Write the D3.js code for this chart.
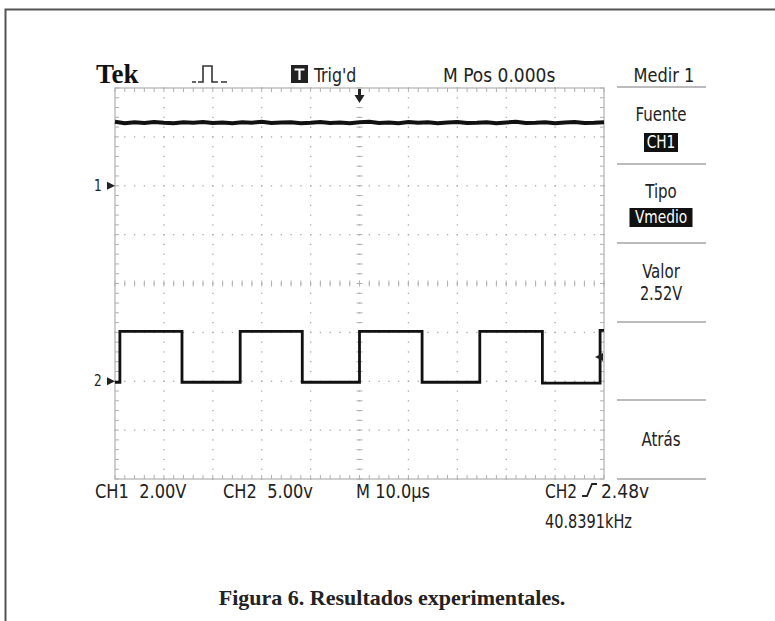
<!DOCTYPE html>
<html><head><meta charset="utf-8">
<script src="https://cdn.jsdelivr.net/npm/d3@7/dist/d3.min.js"></script>
<style>
html,body{margin:0;padding:0;background:#fff;}
svg{display:block;}
</style></head>
<body>
<svg id="c" width="775" height="621"></svg>
<script>
// ---- data ----
const timeDomain = [-50, 50];          // µs, 10 µs/div
const divDomain = [-4, 4];             // vertical divisions
const ch1VoltsPerDiv = 2.0;
const ch2VoltsPerDiv = 5.0;
const ch1GroundDiv = 2;
const ch2GroundDiv = -2;
// CH1: nearly flat DC level
const ch1Times  = [-50,-48,-46,-44,-42,-40,-38,-36,-34,-32,-30,-28,-26,-24,-22,-20,-18,-16,-14,-12,-10,-8,-6,-4,-2,0,2,4,6,8,10,12,14,16,18,20,22,24,26,28,30,32,34,36,38,40,42,44,46,48,50];
const ch1Volts  = [2.62,2.56,2.60,2.57,2.61,2.58,2.56,2.60,2.58,2.61,2.57,2.59,2.56,2.60,2.58,2.62,2.57,2.59,2.60,2.56,2.58,2.61,2.57,2.59,2.56,2.60,2.62,2.57,2.59,2.56,2.61,2.58,2.60,2.56,2.59,2.61,2.57,2.58,2.60,2.56,2.59,2.62,2.57,2.58,2.60,2.56,2.59,2.61,2.57,2.58,2.60];
// CH2: square wave, ~40.84 kHz
const ch2Times  = [-50,-49.0,-49.0,-36.3,-36.3,-24.4,-24.4,-11.7,-11.7,0,0,12.8,12.8,24.6,24.6,37.4,37.4,49.2,49.2,50];
const ch2Volts  = [-0.1,-0.1,5.1,5.1,-0.1,-0.1,5.1,5.1,-0.1,-0.1,5.1,5.1,-0.1,-0.1,5.1,5.1,-0.2,-0.2,5.2,5.2];
const headerTexts = ["Tek","Trig'd","M Pos 0.000s","Medir 1"];
const bottomTexts = ["CH1  2.00V","CH2  5.00v","M 10.0\u00B5s","CH2","2.48v","40.8391kHz"];
const menuTexts = ["Fuente","CH1","Tipo","Vmedio","Valor","2.52V","Atr\u00E1s"];
const caption = "Figura 6. Resultados experimentales.";
const trigLevelV = 2.48;

// ---- layout ----
const svg = d3.select("#c");
const L = 115, R = 604, T = 88, B = 479;
const x = d3.scaleLinear().domain(timeDomain).range([L, R]);
const yd = d3.scaleLinear().domain(divDomain).range([B, T]);
const y1 = v => yd(ch1GroundDiv + v / ch1VoltsPerDiv);
const y2 = v => yd(ch2GroundDiv + v / ch2VoltsPerDiv);

const font = "'DejaVu Sans Condensed','DejaVu Sans',sans-serif";
function txt(g, tx, ty, s, size, sx, anchor, fill) {
  return g.append("text").attr("transform", `translate(${tx},${ty}) scale(${sx},1)`)
    .attr("text-anchor", anchor || "start").attr("font-family", font).attr("font-size", size)
    .attr("fill", fill || "#222").attr("xml:space", "preserve").text(s);
}

// outer frame
svg.append("rect").attr("x", 0).attr("y", 0).attr("width", 775).attr("height", 621).attr("fill", "#fff");
svg.append("path").attr("d", "M5.5,621 L5.5,9.5 L775,9.5").attr("fill", "none").attr("stroke", "#555").attr("stroke-width", 2);

const scope = svg.append("g");
// grid border
scope.append("rect").attr("x", L).attr("y", T).attr("width", R - L).attr("height", B - T)
  .attr("fill", "none").attr("stroke", "#c0c0c0").attr("stroke-width", 1.5);

// dotted grid
const gridG = scope.append("g").attr("fill", "#a8a8a8");
for (let t = -40; t <= 40; t += 10) {
  for (let d = -4; d <= 4.001; d += 0.2) {
    gridG.append("rect").attr("x", x(t) - 0.6).attr("y", yd(d) - 0.6).attr("width", 1.3).attr("height", 1.3);
  }
}
for (let dv = -3; dv <= 3; dv += 1) {
  for (let t = -50; t <= 50.001; t += 2) {
    gridG.append("rect").attr("x", x(t) - 0.6).attr("y", yd(dv) - 0.6).attr("width", 1.3).attr("height", 1.3);
  }
}
// ticks on edges and center axes
const tickG = scope.append("g").attr("stroke", "#b0b0b0").attr("stroke-width", 1);
for (let t = -50; t <= 50.001; t += 2) {
  tickG.append("line").attr("x1", x(t)).attr("x2", x(t)).attr("y1", T).attr("y2", T + 4);
  tickG.append("line").attr("x1", x(t)).attr("x2", x(t)).attr("y1", B).attr("y2", B - 4);
  tickG.append("line").attr("x1", x(t)).attr("x2", x(t)).attr("y1", yd(0) - 3).attr("y2", yd(0) + 3);
}
for (let d = -4; d <= 4.001; d += 0.2) {
  tickG.append("line").attr("x1", L).attr("x2", L + 4).attr("y1", yd(d)).attr("y2", yd(d));
  tickG.append("line").attr("x1", R).attr("x2", R - 4).attr("y1", yd(d)).attr("y2", yd(d));
  tickG.append("line").attr("x1", x(0) - 3).attr("x2", x(0) + 3).attr("y1", yd(d)).attr("y2", yd(d));
}

// traces
const line1 = d3.line().x((d, i) => x(ch1Times[i])).y((d, i) => y1(ch1Volts[i]));
scope.append("path").datum(ch1Volts).attr("d", line1).attr("fill", "none")
  .attr("stroke", "#111").attr("stroke-width", 4);
const line2 = d3.line().x((d, i) => x(ch2Times[i])).y((d, i) => y2(ch2Volts[i]));
scope.append("path").datum(ch2Volts).attr("d", line2).attr("fill", "none")
  .attr("stroke", "#111").attr("stroke-width", 2.8);

// channel markers
function chMarker(label, yy) {
  txt(scope, 94, yy + 5, label, 15, 0.9);
  scope.append("path").attr("d", `M${L - 8},${yy - 4} L${L},${yy} L${L - 8},${yy + 4} Z`).attr("fill", "#222");
}
chMarker("1", yd(ch1GroundDiv));
chMarker("2", yd(ch2GroundDiv));
// trigger position arrow
const cx = x(0);
scope.append("path").attr("d", `M${cx},${T + 15} L${cx - 5},${T + 7} L${cx - 1.5},${T + 7} L${cx - 1.5},${T + 1} L${cx + 1.5},${T + 1} L${cx + 1.5},${T + 7} L${cx + 5},${T + 7} Z`).attr("fill", "#222");
// trigger level arrow
const ty = y2(trigLevelV);
scope.append("path").attr("d", `M${R - 9},${ty} L${R - 1},${ty - 4} L${R - 1},${ty + 4} Z`).attr("fill", "#222");

// header
const hdr = svg.append("g");
hdr.append("text").attr("x", 96).attr("y", 83).attr("font-family", "'Liberation Serif',serif").attr("font-weight", "bold")
  .attr("font-size", 27).attr("fill", "#111").text(headerTexts[0]);
hdr.append("path").attr("d", "M192,82 L196,82 M198,82 L203,82 L203,66 L212,66 L212,82 L218,82 M221,82 L227,82")
  .attr("fill", "none").attr("stroke", "#333").attr("stroke-width", 1.6);
hdr.append("rect").attr("x", 291).attr("y", 65).attr("width", 17).attr("height", 18).attr("fill", "#222");
hdr.append("path").attr("d", "M294.5,69.5 L304.5,69.5 M299.5,69.5 L299.5,80").attr("stroke", "#fff").attr("stroke-width", 2.2);
txt(hdr, 314, 82, headerTexts[1], 20, 0.88);
txt(hdr, 443, 82, headerTexts[2], 20, 0.95);
txt(hdr, 664, 82, headerTexts[3], 20, 0.9, "middle");

// right menu
const menu = svg.append("g");
[87, 164, 243, 322, 400, 479].forEach(yy => {
  menu.append("line").attr("x1", 617).attr("x2", 706).attr("y1", yy).attr("y2", yy)
    .attr("stroke", "#bbb").attr("stroke-width", 1.8);
});
const mx = 661;
function mbox(t, yy, w, size) {
  menu.append("rect").attr("x", mx - w / 2).attr("y", yy - 15).attr("width", w).attr("height", 19).attr("fill", "#111");
  txt(menu, mx, yy, t, size, 0.85, "middle", "#fff");
}
txt(menu, mx, 121, menuTexts[0], 19, 0.88, "middle");
mbox(menuTexts[1], 148, 34, 18);
txt(menu, mx, 198, menuTexts[2], 19, 0.88, "middle");
mbox(menuTexts[3], 223, 63, 18);
txt(menu, mx, 278, menuTexts[4], 19, 0.88, "middle");
txt(menu, mx, 300, menuTexts[5], 19, 0.85, "middle");
txt(menu, mx, 446, menuTexts[6], 19, 0.88, "middle");

// bottom readouts
const bot = svg.append("g");
txt(bot, 95, 498, bottomTexts[0], 19, 0.95);
txt(bot, 223, 498, bottomTexts[1], 19, 0.95);
txt(bot, 356, 498, bottomTexts[2], 19, 0.95);
txt(bot, 545, 498, bottomTexts[3], 19, 0.9);
bot.append("path").attr("d", "M582,496 L587,496 L592,484 L597,484").attr("fill", "none").attr("stroke", "#222").attr("stroke-width", 1.8);
txt(bot, 601, 498, bottomTexts[4], 19, 1.0);
txt(bot, 545, 528, bottomTexts[5], 19, 0.85);

// caption
svg.append("text").attr("x", 392).attr("y", 605).attr("text-anchor", "middle")
  .attr("font-family", "'Liberation Serif','DejaVu Serif',serif").attr("font-weight", "bold")
  .attr("font-size", 22).attr("fill", "#222").text(caption);
</script>
</body></html>
